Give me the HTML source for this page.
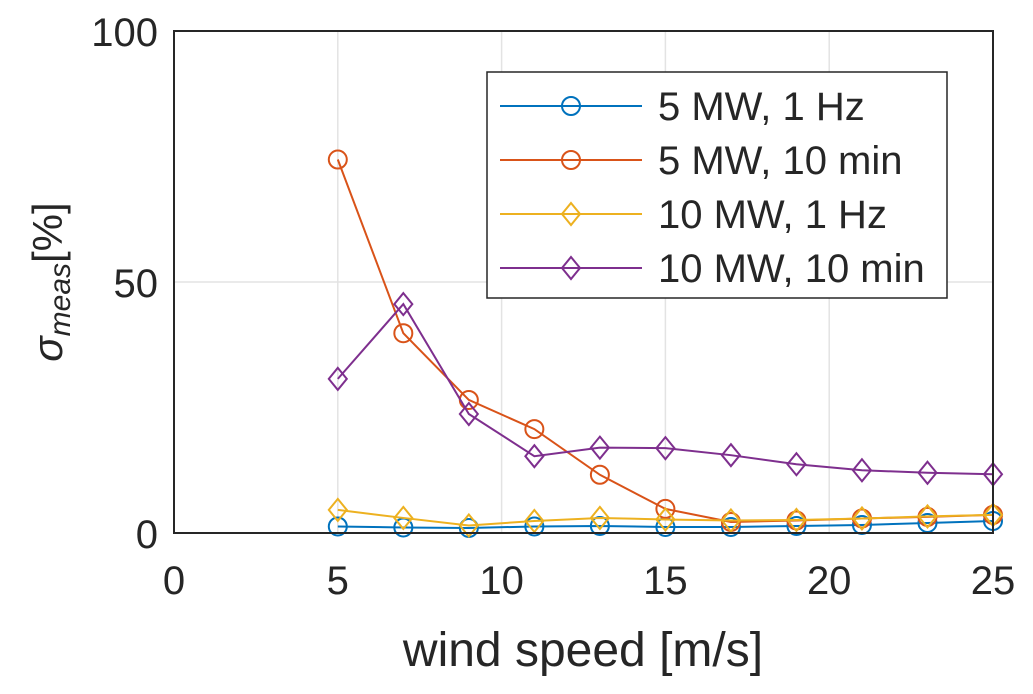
<!DOCTYPE html>
<html><head><meta charset="utf-8"><style>
body{margin:0;background:#fff}
svg text{font-family:"Liberation Sans",Arial,sans-serif;fill:#262626}
</style></head><body>
<svg width="1033" height="689" viewBox="0 0 1033 689">
<g id="grid"></g>
<g id="series"></g>
<rect x="174" y="31" width="819" height="502" fill="none" stroke="#262626" stroke-width="2"/>
<g id="ticks"></g>
<text x="583" y="666" font-size="48" text-anchor="middle">wind speed [m/s]</text>
<g transform="translate(62,282) rotate(-90)">
<text x="0" y="0" font-size="42" text-anchor="middle" font-family="Liberation Serif" font-style="italic">σ<tspan font-size="30" dy="8">meas</tspan><tspan font-style="normal" dy="-8">[%]</tspan></text>
</g>
<g id="legend">
<rect x="487" y="72" width="460" height="226" fill="#fff" stroke="#262626" stroke-width="1.5"/>
</g>
</svg>
<script>
const xs=[5,7,9,11,13,15,17,19,21,23,25];
const s5mw1hz=[1.3,1.1,1.0,1.3,1.4,1.2,1.2,1.4,1.6,2.0,2.4];
const s5mw10min=[74.4,39.8,26.5,20.7,11.6,4.8,2.2,2.5,2.9,3.2,3.6];
const s10mw1hz=[4.6,3.0,1.5,2.4,3.0,2.7,2.5,2.6,2.9,3.3,3.6];
const s10mw10min=[30.7,45.6,23.7,15.3,17.0,16.9,15.5,13.7,12.5,12.0,11.7];
const xTicks=[0,5,10,15,20,25];
const yTicks=[0,50,100];
const names=["5 MW, 1 Hz","5 MW, 10 min","10 MW, 1 Hz","10 MW, 10 min"];
const colors=["#0072BD","#D95319","#EDB120","#7E2F8E"];
const markers=["o","o","d","d"];
const data=[s5mw1hz,s5mw10min,s10mw1hz,s10mw10min];
const X=v=>174+v*819/25, Y=v=>533-v*502/100;
const NS="http://www.w3.org/2000/svg";
function mk(t,a,p){const e=document.createElementNS(NS,t);for(const k in a)e.setAttribute(k,a[k]);p.appendChild(e);return e;}
const grid=document.getElementById('grid'),ticks=document.getElementById('ticks');
xTicks.forEach(v=>{const l=mk('line',{x1:X(v),x2:X(v),y1:31,y2:533,stroke:'#e3e3e3','stroke-width':1.5},grid);


const t=mk('text',{x:X(v),y:594,'font-size':40,'text-anchor':'middle'},ticks);t.textContent=v;

});
yTicks.forEach(v=>{const l=mk('line',{x1:174,x2:993,y1:Y(v),y2:Y(v),stroke:'#e3e3e3','stroke-width':1.5},grid);


const t=mk('text',{x:158,y:Y(v)+15,'font-size':40,'text-anchor':'end'},ticks);t.textContent=v;

});
function marker(g,type,x,y,c){if(type==='o')return mk('circle',{cx:x,cy:y,r:9,fill:'none',stroke:c,'stroke-width':2},g);
return mk('polygon',{points:`${x},${y-11} ${x+9},${y} ${x},${y+11} ${x-9},${y}`,fill:'none',stroke:c,'stroke-width':2},g);}
const sg=document.getElementById('series');
data.forEach((d,i)=>{const g=mk('g',{},sg);


mk('polyline',{points:xs.map((x,j)=>X(x)+','+Y(d[j])).join(' '),fill:'none',stroke:colors[i],'stroke-width':2},g);
xs.forEach((x,j)=>{const m=marker(g,markers[i],X(x),Y(d[j]),colors[i]);

});});
const lg=document.getElementById('legend');
names.forEach((n,i)=>{const y=106+i*54;const g=mk('g',{},lg);


mk('line',{x1:500,x2:642,y1:y,y2:y,stroke:colors[i],'stroke-width':2},g);
marker(g,markers[i],571,y,colors[i]);
const t=mk('text',{x:658,y:y+14,'font-size':40},g);t.textContent=n;});
</script>
</body></html>
